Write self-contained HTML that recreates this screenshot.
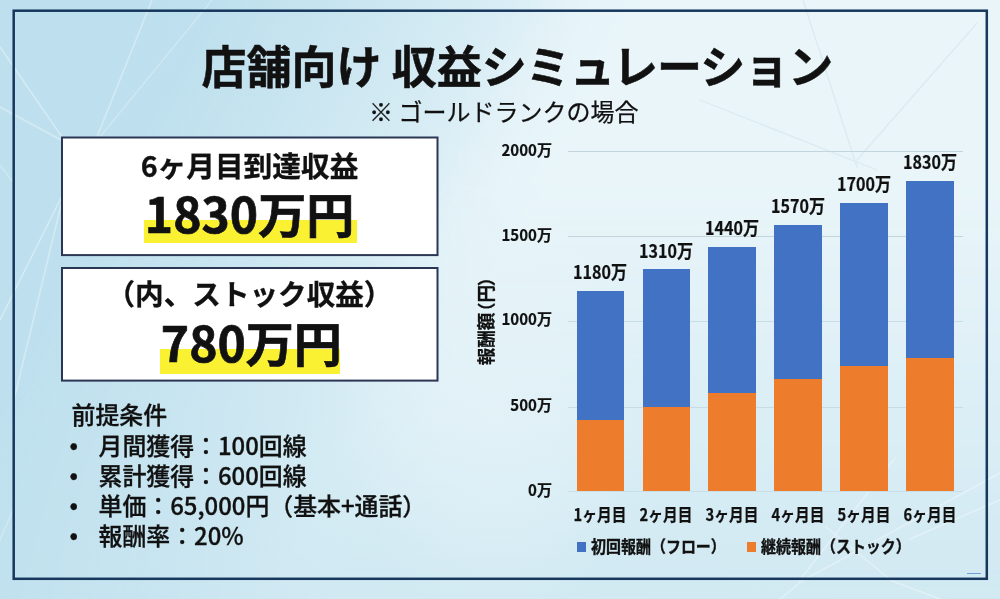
<!DOCTYPE html>
<html lang="ja">
<head>
<meta charset="utf-8">
<title>店舗向け 収益シミュレーション</title>
<style>
  html, body { margin: 0; padding: 0; }
  body {
    width: 1000px; height: 599px; overflow: hidden; position: relative;
    font-family: "Liberation Sans", "Noto Sans CJK JP", sans-serif;
    color: #111;
    background: #c4e3ef;
  }
  .bg {
    position: absolute; left: 0; top: 0; width: 1000px; height: 599px;
    background: linear-gradient(90deg, #bee0ee 0%, #c0e1ee 100%);
  }
  .bg2 {
    position: absolute; left: 0; top: 0; width: 1000px; height: 599px;
    background: linear-gradient(118deg, rgba(233,245,249,0) 16%, rgba(233,245,249,0.2) 25%, rgba(233,245,249,0.6) 38%, rgba(233,245,249,0.92) 44.5%, rgba(233,245,249,1) 49%, rgba(233,245,249,1) 100%);
    -webkit-mask-image: linear-gradient(180deg, #000 0%, #000 30%, rgba(0,0,0,0.74) 60%, rgba(0,0,0,0.52) 85%, rgba(0,0,0,0.42) 100%);
    mask-image: linear-gradient(180deg, #000 0%, #000 30%, rgba(0,0,0,0.74) 60%, rgba(0,0,0,0.52) 85%, rgba(0,0,0,0.42) 100%);
  }
  .bg3 {
    position: absolute; left: 0; top: 0; width: 1000px; height: 599px;
    background: radial-gradient(ellipse 150px 230px at 495px 400px, rgba(233,245,249,0.5) 0%, rgba(233,245,249,0.35) 45%, rgba(233,245,249,0) 100%);
  }
  .abs { position: absolute; white-space: nowrap; line-height: 1; }
  .jp { font-family: "Noto Sans CJK JP", "Liberation Sans", sans-serif; }
  .hl { position: absolute; background: #fbf133; }
  .bar { position: absolute; width: 47.5px; }
  .blue { background: #4272c3; }
  .orange { background: #ee7c2d; }
  .grid { position: absolute; left: 568px; width: 395px; height: 1.4px; background: #c2d5dd; }
  .ylab { -webkit-text-stroke: 0.2px #111; font-size: 16px; font-weight: 700; text-align: right; width: 60px; left: 491.5px; transform-origin: right center; transform: scaleX(0.94); }
  .dlab { -webkit-text-stroke: 0.2px #111; font-size: 18.5px; font-weight: 700; text-align: center; width: 80px; transform: scaleX(0.87); }
  .xlab { -webkit-text-stroke: 0.25px #111; font-size: 17px; font-weight: 700; text-align: center; width: 80px; top: 505px; transform: scaleX(0.865); }
</style>
</head>
<body class="jp">
<div class="bg"></div>
<div class="bg2"></div>
<div class="bg3"></div>
<div id="stage" style="position:absolute;left:0;top:0;width:1000px;height:599px;filter:blur(0.45px);">
<svg class="abs" style="left:0;top:0" width="1000" height="599" viewBox="0 0 1000 599">
  <g stroke="#ffffff" stroke-width="1.6" fill="none" stroke-linecap="round" opacity="0.33">
    <line x1="0" y1="47" x2="62" y2="137"/>
    <line x1="0" y1="107" x2="61" y2="140"/>
    <line x1="152" y1="0" x2="97" y2="137"/>
    <line x1="61" y1="198" x2="0" y2="320"/>
    <line x1="61" y1="205" x2="14" y2="400"/>
    <line x1="1000" y1="473" x2="802" y2="581"/>
    <line x1="895" y1="458" x2="799" y2="581"/>
    <line x1="1000" y1="500" x2="910" y2="539"/>
    <line x1="826" y1="527" x2="892" y2="581"/>
    <line x1="892" y1="581" x2="940" y2="599"/>
    <line x1="802" y1="581" x2="780" y2="599"/>
  </g>
  <g stroke="#ffffff" stroke-width="1.4" fill="none" stroke-linecap="round" opacity="0.25">
    <line x1="212" y1="0" x2="100" y2="137"/>
    <line x1="0" y1="165" x2="13" y2="182"/>
    <line x1="0" y1="540" x2="13" y2="510"/>
  </g>
  <g stroke="#b9d3de" stroke-width="1.3" fill="none" stroke-linecap="round" opacity="0.3">
    <line x1="803" y1="0" x2="857" y2="167"/>
    <line x1="977" y1="23" x2="857" y2="160"/>
    <line x1="700" y1="100" x2="877" y2="170"/>
  </g>
</svg>
<svg class="abs" style="left:0;top:0" width="1000" height="599" viewBox="0 0 1000 599">
  <rect x="13.7" y="10.7" width="973.1" height="568.1" fill="none" stroke="#17375c" stroke-width="2.5"/>
  <rect x="62" y="137.5" width="375.5" height="117.6" fill="#ffffff" stroke="#2a3654" stroke-width="2"/>
  <rect x="62" y="268" width="375.5" height="112.6" fill="#ffffff" stroke="#2a3654" stroke-width="2"/>
</svg>

<!-- Title -->
<div class="abs" id="title" style="left:201.6px; top:41.5px; font-size:45px; font-weight:700; -webkit-text-stroke:0.5px #111;">店舗向け 収益<span style="letter-spacing:-0.95px">シミュレーション</span></div>
<div class="abs" id="subtitle" style="left:369.1px; top:99px; font-size:24px; font-weight:400; -webkit-text-stroke:0.25px #111;">※ ゴールドランクの場合</div>

<!-- Box 1 -->
<div class="hl" style="left:144px; top:220px; width:213px; height:23px;"></div>
<div class="abs" id="b1a" style="left:61px; width:377px; text-align:center; top:151px; font-size:28.7px; font-weight:700; -webkit-text-stroke:0.3px #111;">6ヶ月目到達収益</div>
<div class="abs" id="b1b" style="left:61px; width:377px; text-align:center; top:188px; font-size:48px; font-weight:700; -webkit-text-stroke:0.7px #111;">1830万円</div>

<!-- Box 2 -->
<div class="hl" style="left:159.5px; top:348.5px; width:180.5px; height:25px;"></div>
<div class="abs" id="b2a" style="left:61px; width:377px; text-align:center; top:278.5px; font-size:28.6px; font-weight:700; -webkit-text-stroke:0.3px #111;">（内、ストック収益）</div>
<div class="abs" id="b2b" style="left:62.8px; width:377px; text-align:center; top:317px; font-size:48px; font-weight:700; -webkit-text-stroke:0.7px #111;">780万円</div>

<!-- Conditions -->
<div class="abs" id="c0" style="left:71.5px; top:402px; font-size:23.9px; font-weight:500; -webkit-text-stroke:0.3px #111;">前提条件</div>
<div class="abs" id="c1" style="left:69.5px; top:433px; font-size:23.9px; font-weight:500; -webkit-text-stroke:0.3px #111;"><span style="position:relative;top:-1.5px">•</span><span style="display:inline-block;width:20.5px"></span>月間獲得：100回線</div>
<div class="abs" id="c2" style="left:69.5px; top:463px; font-size:23.9px; font-weight:500; -webkit-text-stroke:0.3px #111;"><span style="position:relative;top:-1.5px">•</span><span style="display:inline-block;width:20.5px"></span>累計獲得：600回線</div>
<div class="abs" id="c3" style="left:69.5px; top:493px; font-size:23.9px; font-weight:500; -webkit-text-stroke:0.3px #111;"><span style="position:relative;top:-1.5px">•</span><span style="display:inline-block;width:20.5px"></span>単価：65,000円（基本+通話）</div>
<div class="abs" id="c4" style="left:69.5px; top:523px; font-size:23.9px; font-weight:500; -webkit-text-stroke:0.3px #111;"><span style="position:relative;top:-1.5px">•</span><span style="display:inline-block;width:20.5px"></span>報酬率：20%</div>

<!-- Chart -->
<div class="grid" style="top:150.5px"></div>
<div class="grid" style="top:236px"></div>
<div class="grid" style="top:321px; opacity:0.75"></div>
<div class="grid" style="top:407px; opacity:0.75"></div>
<div class="grid" style="top:491px; opacity:0.6"></div>

<div class="abs ylab" style="top:140.5px">2000万</div>
<div class="abs ylab" style="top:225.5px">1500万</div>
<div class="abs ylab" style="top:310px">1000万</div>
<div class="abs ylab" style="top:396px">500万</div>
<div class="abs ylab" style="top:481px">0万</div>

<div class="abs" id="ytitle" style="left:485px; top:316.8px; font-size:18px; font-weight:700; -webkit-text-stroke:0.3px #111; transform: translate(-50%,-50%) rotate(-90deg) scaleX(0.975);">報酬額<span style="margin-left:-7.5px">（</span>円<span style="margin-left:-1.5px">）</span></div>

<!-- bars -->
<div class="bar blue" style="left:576.6px; top:291px; height:129px"></div>
<div class="bar orange" style="left:576.6px; top:420px; height:71px"></div>
<div class="bar blue" style="left:642.5px; top:269px; height:137.5px"></div>
<div class="bar orange" style="left:642.5px; top:406.5px; height:84.5px"></div>
<div class="bar blue" style="left:708.3px; top:247px; height:146px"></div>
<div class="bar orange" style="left:708.3px; top:393px; height:98px"></div>
<div class="bar blue" style="left:774.1px; top:225px; height:154px"></div>
<div class="bar orange" style="left:774.1px; top:379px; height:112px"></div>
<div class="bar blue" style="left:840px; top:203px; height:162.5px"></div>
<div class="bar orange" style="left:840px; top:365.5px; height:125.5px"></div>
<div class="bar blue" style="left:906px; top:181px; height:177px"></div>
<div class="bar orange" style="left:906px; top:358px; height:133px"></div>

<!-- data labels -->
<div class="abs dlab" style="left:560.3px; top:261.5px">1180万</div>
<div class="abs dlab" style="left:626.2px; top:240.5px">1310万</div>
<div class="abs dlab" style="left:692px; top:217.5px">1440万</div>
<div class="abs dlab" style="left:757.8px; top:195.5px">1570万</div>
<div class="abs dlab" style="left:823.7px; top:173.5px">1700万</div>
<div class="abs dlab" style="left:889.7px; top:151.5px">1830万</div>

<!-- x labels -->
<div class="abs xlab" style="left:560.3px">1ヶ月目</div>
<div class="abs xlab" style="left:626.2px">2ヶ月目</div>
<div class="abs xlab" style="left:692px">3ヶ月目</div>
<div class="abs xlab" style="left:757.8px">4ヶ月目</div>
<div class="abs xlab" style="left:823.7px">5ヶ月目</div>
<div class="abs xlab" style="left:889.7px">6ヶ月目</div>

<!-- legend -->
<div class="abs blue" style="left:576.5px; top:542.2px; width:9.2px; height:9.6px;"></div>
<div class="abs" id="lg1" style="left:590.5px; top:537.7px; font-size:16.5px; font-weight:700; -webkit-text-stroke:0.35px #111; transform-origin:left center; transform:scaleX(0.908);">初回報酬（フロー）</div>
<div class="abs orange" style="left:746.5px; top:542.2px; width:9.6px; height:9.6px;"></div>
<div class="abs" id="lg2" style="left:760.5px; top:537.7px; font-size:16.5px; font-weight:700; -webkit-text-stroke:0.35px #111; transform-origin:left center; transform:scaleX(0.908);">継続報酬（ストック）</div>

<div class="abs" style="left:967px; top:573px; width:14px; height:1px; background:#6d9fd0;"></div>
</div>
</body>
</html>
